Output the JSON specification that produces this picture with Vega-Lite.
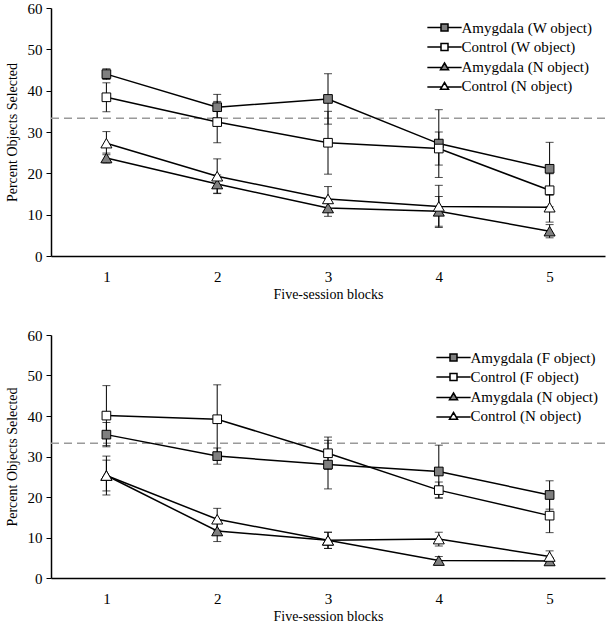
{
  "$schema": "https://vega.github.io/schema/vega-lite/v6.json",
  "background": "white",
  "padding": {"left": 5, "top": 1, "right": 5, "bottom": 5},
  "spacing": 27,
  "datasets": {
    "top": [
      {"series": "Amygdala (W object)", "block": 1, "value": 44, "lo": 42.7, "hi": 45.3},
      {"series": "Amygdala (W object)", "block": 2, "value": 36, "lo": 32.9, "hi": 39.1},
      {"series": "Amygdala (W object)", "block": 3, "value": 38, "lo": 31.9, "hi": 44.1},
      {"series": "Amygdala (W object)", "block": 4, "value": 27.2, "lo": 19, "hi": 35.4},
      {"series": "Amygdala (W object)", "block": 5, "value": 21.1, "lo": 14.7, "hi": 27.5},
      {"series": "Control (W object)", "block": 1, "value": 38.4, "lo": 34.9, "hi": 41.9},
      {"series": "Control (W object)", "block": 2, "value": 32.4, "lo": 27.4, "hi": 37.4},
      {"series": "Control (W object)", "block": 3, "value": 27.4, "lo": 19.8, "hi": 35},
      {"series": "Control (W object)", "block": 4, "value": 26, "lo": 22, "hi": 30},
      {"series": "Control (W object)", "block": 5, "value": 15.9, "lo": 11.9, "hi": 19.9},
      {"series": "Amygdala (N object)", "block": 1, "value": 23.7, "lo": 22.5, "hi": 24.9},
      {"series": "Amygdala (N object)", "block": 2, "value": 17.4, "lo": 15.2, "hi": 19.6},
      {"series": "Amygdala (N object)", "block": 3, "value": 11.6, "lo": 9.6, "hi": 13.6},
      {"series": "Amygdala (N object)", "block": 4, "value": 10.8, "lo": 7.2, "hi": 14.4},
      {"series": "Amygdala (N object)", "block": 5, "value": 6, "lo": 4.4, "hi": 7.6},
      {"series": "Control (N object)", "block": 1, "value": 27.3, "lo": 24.5, "hi": 30.1},
      {"series": "Control (N object)", "block": 2, "value": 19.3, "lo": 15.1, "hi": 23.5},
      {"series": "Control (N object)", "block": 3, "value": 13.8, "lo": 10.8, "hi": 16.8},
      {"series": "Control (N object)", "block": 4, "value": 12, "lo": 6.9, "hi": 17.1},
      {"series": "Control (N object)", "block": 5, "value": 11.8, "lo": 8.2, "hi": 15.4}
    ],
    "bottom": [
      {"series": "Amygdala (F object)", "block": 1, "value": 35.4, "lo": 32.4, "hi": 38.4},
      {"series": "Amygdala (F object)", "block": 2, "value": 30.1, "lo": 28.1, "hi": 32.1},
      {"series": "Amygdala (F object)", "block": 3, "value": 28, "lo": 22, "hi": 34},
      {"series": "Amygdala (F object)", "block": 4, "value": 26.3, "lo": 19.8, "hi": 32.8},
      {"series": "Amygdala (F object)", "block": 5, "value": 20.5, "lo": 17, "hi": 24},
      {"series": "Control (F object)", "block": 1, "value": 40.1, "lo": 32.7, "hi": 47.5},
      {"series": "Control (F object)", "block": 2, "value": 39.2, "lo": 30.7, "hi": 47.7},
      {"series": "Control (F object)", "block": 3, "value": 30.8, "lo": 26.8, "hi": 34.8},
      {"series": "Control (F object)", "block": 4, "value": 21.7, "lo": 19.7, "hi": 23.7},
      {"series": "Control (F object)", "block": 5, "value": 15.4, "lo": 11.2, "hi": 19.6},
      {"series": "Amygdala (N object)", "block": 1, "value": 25.3, "lo": 21.5, "hi": 29.1},
      {"series": "Amygdala (N object)", "block": 2, "value": 11.6, "lo": 9, "hi": 14.2},
      {"series": "Amygdala (N object)", "block": 3, "value": 9.3, "lo": 7.3, "hi": 11.3},
      {"series": "Amygdala (N object)", "block": 4, "value": 4.3, "lo": 3.3, "hi": 5.3},
      {"series": "Amygdala (N object)", "block": 5, "value": 4.2, "lo": 3.4, "hi": 5},
      {"series": "Control (N object)", "block": 1, "value": 25.3, "lo": 20.5, "hi": 30.1},
      {"series": "Control (N object)", "block": 2, "value": 14.5, "lo": 11.8, "hi": 17.2},
      {"series": "Control (N object)", "block": 3, "value": 9.3, "lo": 7.3, "hi": 11.3},
      {"series": "Control (N object)", "block": 4, "value": 9.6, "lo": 7.9, "hi": 11.3},
      {"series": "Control (N object)", "block": 5, "value": 5.3, "lo": 3.9, "hi": 6.7}
    ]
  },
  "vconcat": [
    {
      "width": 554,
      "height": 248,
      "data": {"name": "top"},
      "layer": [
        {
          "data": {"values": [{"chance": 33.3}]},
          "mark": {"type": "rule", "color": "#9a9a9a", "strokeDash": [8, 5], "strokeWidth": 1.5},
          "encoding": {"y": {"field": "chance", "type": "quantitative", "scale": {"domain": [0, 60]}, "title": "Percent Objects Selected", "axis": {"values": [0, 10, 20, 30, 40, 50, 60]}}}
        },
        {
          "mark": {"type": "rule", "color": "black", "strokeWidth": 1},
          "encoding": {
            "x": {"field": "block", "type": "quantitative", "scale": {"domain": [0.5, 5.5]}, "title": "Five-session blocks", "axis": {"values": [1, 2, 3, 4, 5], "format": "d"}},
            "y": {"field": "lo", "type": "quantitative", "scale": {"domain": [0, 60]}, "title": "Percent Objects Selected", "axis": {"values": [0, 10, 20, 30, 40, 50, 60]}},
            "y2": {"field": "hi"}
          }
        },
        {
          "mark": {"type": "tick", "orient": "horizontal", "color": "black", "size": 8, "thickness": 1},
          "encoding": {
            "x": {"field": "block", "type": "quantitative", "scale": {"domain": [0.5, 5.5]}, "title": "Five-session blocks", "axis": {"values": [1, 2, 3, 4, 5], "format": "d"}},
            "y": {"field": "lo", "type": "quantitative", "scale": {"domain": [0, 60]}, "title": "Percent Objects Selected", "axis": {"values": [0, 10, 20, 30, 40, 50, 60]}}
          }
        },
        {
          "mark": {"type": "tick", "orient": "horizontal", "color": "black", "size": 8, "thickness": 1},
          "encoding": {
            "x": {"field": "block", "type": "quantitative", "scale": {"domain": [0.5, 5.5]}, "title": "Five-session blocks", "axis": {"values": [1, 2, 3, 4, 5], "format": "d"}},
            "y": {"field": "hi", "type": "quantitative", "scale": {"domain": [0, 60]}, "title": "Percent Objects Selected", "axis": {"values": [0, 10, 20, 30, 40, 50, 60]}}
          }
        },
        {
          "mark": {"type": "line", "color": "black", "strokeWidth": 1.5},
          "encoding": {
            "x": {"field": "block", "type": "quantitative", "scale": {"domain": [0.5, 5.5]}, "title": "Five-session blocks", "axis": {"values": [1, 2, 3, 4, 5], "format": "d"}},
            "y": {"field": "value", "type": "quantitative", "scale": {"domain": [0, 60]}, "title": "Percent Objects Selected", "axis": {"values": [0, 10, 20, 30, 40, 50, 60]}},
            "detail": {"field": "series", "type": "nominal"}
          }
        },
        {
          "transform": [{"filter": "indexof(datum.series, 'N object') < 0"}],
          "mark": {"type": "point", "shape": "square", "filled": true, "stroke": "black", "strokeWidth": 1, "opacity": 1, "size": 75},
          "encoding": {
            "x": {"field": "block", "type": "quantitative", "scale": {"domain": [0.5, 5.5]}, "title": "Five-session blocks", "axis": {"values": [1, 2, 3, 4, 5], "format": "d"}},
            "y": {"field": "value", "type": "quantitative", "scale": {"domain": [0, 60]}, "title": "Percent Objects Selected", "axis": {"values": [0, 10, 20, 30, 40, 50, 60]}},
            "fill": {"field": "series", "type": "nominal", "scale": {"domain": ["Amygdala (W object)", "Control (W object)", "Amygdala (N object)", "Control (N object)"], "range": ["#7f7f7f", "#ffffff", "#7f7f7f", "#ffffff"]}}
          }
        },
        {
          "transform": [{"filter": "indexof(datum.series, 'N object') >= 0"}],
          "mark": {"type": "point", "shape": "triangle-up", "filled": true, "stroke": "black", "strokeWidth": 1, "opacity": 1, "size": 121},
          "encoding": {
            "x": {"field": "block", "type": "quantitative", "scale": {"domain": [0.5, 5.5]}, "title": "Five-session blocks", "axis": {"values": [1, 2, 3, 4, 5], "format": "d"}},
            "y": {"field": "value", "type": "quantitative", "scale": {"domain": [0, 60]}, "title": "Percent Objects Selected", "axis": {"values": [0, 10, 20, 30, 40, 50, 60]}},
            "fill": {"field": "series", "type": "nominal", "scale": {"domain": ["Amygdala (W object)", "Control (W object)", "Amygdala (N object)", "Control (N object)"], "range": ["#7f7f7f", "#ffffff", "#7f7f7f", "#ffffff"]}}
          }
        },
        {
          "transform": [{"filter": "false"}],
          "mark": {"type": "point", "filled": true, "stroke": "black", "strokeWidth": 1.2},
          "encoding": {
            "x": {"field": "block", "type": "quantitative", "scale": {"domain": [0.5, 5.5]}, "title": "Five-session blocks", "axis": {"values": [1, 2, 3, 4, 5], "format": "d"}},
            "y": {"field": "value", "type": "quantitative", "scale": {"domain": [0, 60]}, "title": "Percent Objects Selected", "axis": {"values": [0, 10, 20, 30, 40, 50, 60]}},
            "shape": {"field": "series", "type": "nominal", "scale": {"domain": ["Amygdala (W object)", "Control (W object)", "Amygdala (N object)", "Control (N object)"], "range": ["M-4.9,0H-1M1,0H4.9M-1,-1H1V1H-1Z", "M-4.9,0H-1M1,0H4.9M-1,-1H1V1H-1Z", "M-4.9,0.3H-0.8M0.8,0.3H4.9M0,-1L1.15,0.95H-1.15Z", "M-4.9,0.3H-0.8M0.8,0.3H4.9M0,-1L1.15,0.95H-1.15Z"]},
              "legend": {"title": null, "orient": "none", "legendX": 386, "legendY": 12}},
            "fill": {"field": "series", "type": "nominal", "scale": {"domain": ["Amygdala (W object)", "Control (W object)", "Amygdala (N object)", "Control (N object)"], "range": ["#7f7f7f", "#ffffff", "#7f7f7f", "#ffffff"]},
              "legend": {"title": null, "orient": "none", "legendX": 386, "legendY": 12}}
          }
        }
      ]
    },
    {
      "width": 554,
      "height": 243,
      "data": {"name": "bottom"},
      "layer": [
        {
          "data": {"values": [{"chance": 33.3}]},
          "mark": {"type": "rule", "color": "#9a9a9a", "strokeDash": [8, 5], "strokeWidth": 1.5},
          "encoding": {"y": {"field": "chance", "type": "quantitative", "scale": {"domain": [0, 60]}, "title": "Percent Objects Selected", "axis": {"values": [0, 10, 20, 30, 40, 50, 60]}}}
        },
        {
          "mark": {"type": "rule", "color": "black", "strokeWidth": 1},
          "encoding": {
            "x": {"field": "block", "type": "quantitative", "scale": {"domain": [0.5, 5.5]}, "title": "Five-session blocks", "axis": {"values": [1, 2, 3, 4, 5], "format": "d"}},
            "y": {"field": "lo", "type": "quantitative", "scale": {"domain": [0, 60]}, "title": "Percent Objects Selected", "axis": {"values": [0, 10, 20, 30, 40, 50, 60]}},
            "y2": {"field": "hi"}
          }
        },
        {
          "mark": {"type": "tick", "orient": "horizontal", "color": "black", "size": 8, "thickness": 1},
          "encoding": {
            "x": {"field": "block", "type": "quantitative", "scale": {"domain": [0.5, 5.5]}, "title": "Five-session blocks", "axis": {"values": [1, 2, 3, 4, 5], "format": "d"}},
            "y": {"field": "lo", "type": "quantitative", "scale": {"domain": [0, 60]}, "title": "Percent Objects Selected", "axis": {"values": [0, 10, 20, 30, 40, 50, 60]}}
          }
        },
        {
          "mark": {"type": "tick", "orient": "horizontal", "color": "black", "size": 8, "thickness": 1},
          "encoding": {
            "x": {"field": "block", "type": "quantitative", "scale": {"domain": [0.5, 5.5]}, "title": "Five-session blocks", "axis": {"values": [1, 2, 3, 4, 5], "format": "d"}},
            "y": {"field": "hi", "type": "quantitative", "scale": {"domain": [0, 60]}, "title": "Percent Objects Selected", "axis": {"values": [0, 10, 20, 30, 40, 50, 60]}}
          }
        },
        {
          "mark": {"type": "line", "color": "black", "strokeWidth": 1.5},
          "encoding": {
            "x": {"field": "block", "type": "quantitative", "scale": {"domain": [0.5, 5.5]}, "title": "Five-session blocks", "axis": {"values": [1, 2, 3, 4, 5], "format": "d"}},
            "y": {"field": "value", "type": "quantitative", "scale": {"domain": [0, 60]}, "title": "Percent Objects Selected", "axis": {"values": [0, 10, 20, 30, 40, 50, 60]}},
            "detail": {"field": "series", "type": "nominal"}
          }
        },
        {
          "transform": [{"filter": "indexof(datum.series, 'N object') < 0"}],
          "mark": {"type": "point", "shape": "square", "filled": true, "stroke": "black", "strokeWidth": 1, "opacity": 1, "size": 75},
          "encoding": {
            "x": {"field": "block", "type": "quantitative", "scale": {"domain": [0.5, 5.5]}, "title": "Five-session blocks", "axis": {"values": [1, 2, 3, 4, 5], "format": "d"}},
            "y": {"field": "value", "type": "quantitative", "scale": {"domain": [0, 60]}, "title": "Percent Objects Selected", "axis": {"values": [0, 10, 20, 30, 40, 50, 60]}},
            "fill": {"field": "series", "type": "nominal", "scale": {"domain": ["Amygdala (F object)", "Control (F object)", "Amygdala (N object)", "Control (N object)"], "range": ["#7f7f7f", "#ffffff", "#7f7f7f", "#ffffff"]}}
          }
        },
        {
          "transform": [{"filter": "indexof(datum.series, 'N object') >= 0"}],
          "mark": {"type": "point", "shape": "triangle-up", "filled": true, "stroke": "black", "strokeWidth": 1, "opacity": 1, "size": 121},
          "encoding": {
            "x": {"field": "block", "type": "quantitative", "scale": {"domain": [0.5, 5.5]}, "title": "Five-session blocks", "axis": {"values": [1, 2, 3, 4, 5], "format": "d"}},
            "y": {"field": "value", "type": "quantitative", "scale": {"domain": [0, 60]}, "title": "Percent Objects Selected", "axis": {"values": [0, 10, 20, 30, 40, 50, 60]}},
            "fill": {"field": "series", "type": "nominal", "scale": {"domain": ["Amygdala (F object)", "Control (F object)", "Amygdala (N object)", "Control (N object)"], "range": ["#7f7f7f", "#ffffff", "#7f7f7f", "#ffffff"]}}
          }
        },
        {
          "transform": [{"filter": "false"}],
          "mark": {"type": "point", "filled": true, "stroke": "black", "strokeWidth": 1.2},
          "encoding": {
            "x": {"field": "block", "type": "quantitative", "scale": {"domain": [0.5, 5.5]}, "title": "Five-session blocks", "axis": {"values": [1, 2, 3, 4, 5], "format": "d"}},
            "y": {"field": "value", "type": "quantitative", "scale": {"domain": [0, 60]}, "title": "Percent Objects Selected", "axis": {"values": [0, 10, 20, 30, 40, 50, 60]}},
            "shape": {"field": "series", "type": "nominal", "scale": {"domain": ["Amygdala (F object)", "Control (F object)", "Amygdala (N object)", "Control (N object)"], "range": ["M-4.9,0H-1M1,0H4.9M-1,-1H1V1H-1Z", "M-4.9,0H-1M1,0H4.9M-1,-1H1V1H-1Z", "M-4.9,0.3H-0.8M0.8,0.3H4.9M0,-1L1.15,0.95H-1.15Z", "M-4.9,0.3H-0.8M0.8,0.3H4.9M0,-1L1.15,0.95H-1.15Z"]},
              "legend": {"title": null, "orient": "none", "legendX": 395, "legendY": 15}},
            "fill": {"field": "series", "type": "nominal", "scale": {"domain": ["Amygdala (F object)", "Control (F object)", "Amygdala (N object)", "Control (N object)"], "range": ["#7f7f7f", "#ffffff", "#7f7f7f", "#ffffff"]},
              "legend": {"title": null, "orient": "none", "legendX": 395, "legendY": 15}}
          }
        }
      ]
    }
  ],
  "resolve": {
    "scale": {"x": "independent", "y": "independent", "fill": "independent", "shape": "independent"},
    "legend": {"fill": "independent", "shape": "independent"}
  },
  "config": {
    "font": "Liberation Serif, Times New Roman, serif",
    "view": {"stroke": null},
    "axis": {
      "domainColor": "black", "domainWidth": 1.5, "tickColor": "black", "tickWidth": 1,
      "labelColor": "black", "titleColor": "black",
      "labelFont": "Liberation Serif, Times New Roman, serif", "titleFont": "Liberation Serif, Times New Roman, serif",
      "labelFontSize": 15, "titleFontSize": 14, "titleFontWeight": "normal", "grid": false
    },
    "axisY": {"tickSize": 5, "labelPadding": 4, "titlePadding": 8},
    "axisX": {"ticks": false, "labelPadding": 13, "titlePadding": 3},
    "legend": {
      "labelFont": "Liberation Serif, Times New Roman, serif", "labelFontSize": 15, "labelColor": "black",
      "symbolSize": 49,
      "labelOffset": 9.5, "rowPadding": 3.5, "padding": 0
    }
  }
}
